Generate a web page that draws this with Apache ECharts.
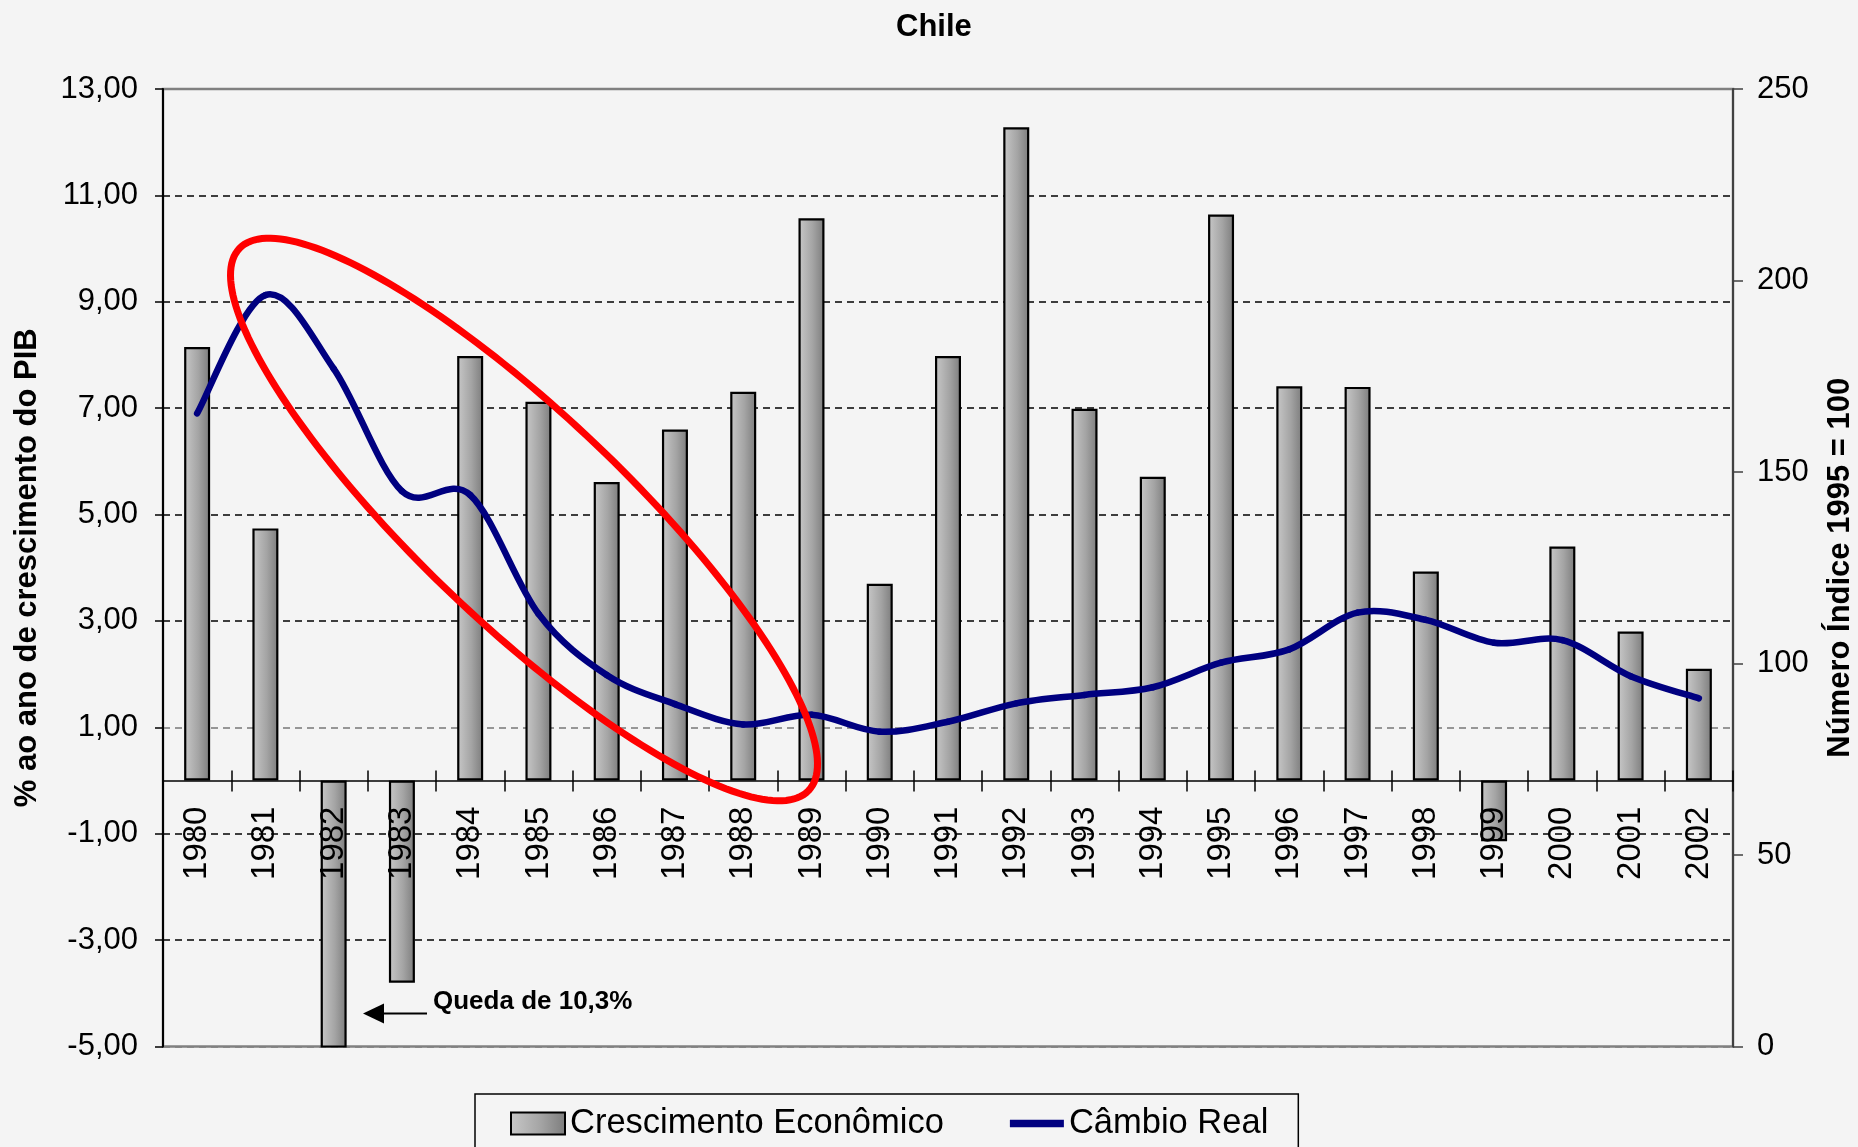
<!DOCTYPE html>
<html>
<head>
<meta charset="utf-8">
<script src="https://cdn.jsdelivr.net/npm/echarts/dist/echarts.min.js"></script>
<style>
html,body{margin:0;padding:0;background:#f4f4f4;}
#c{width:1858px;height:1147px;}
</style>
</head>
<body>
<div id="c"></div>
<script>
const years = ['1980','1981','1982','1983','1984','1985','1986','1987','1988','1989','1990','1991','1992','1993','1994','1995','1996','1997','1998','1999','2000','2001','2002'];
const crescimento = [8.15, 4.74, -10.3, -3.8, 7.98, 7.12, 5.61, 6.60, 7.31, 10.57, 3.70, 7.98, 12.28, 6.99, 5.71, 10.64, 7.41, 7.40, 3.93, -1.14, 4.40, 2.80, 2.10];
const cambioReal = [165.3, 196.2, 177, 145, 144, 113, 97, 89.4, 84.1, 86.6, 82.2, 84.8, 89.6, 91.8, 93.8, 100.2, 103.7, 113.3, 111.4, 105.4, 106.1, 96.7, 90.9];
const leftTicks = [-5, -3, -1, 1, 3, 5, 7, 9, 11, 13];
const rightTicks = [0, 50, 100, 150, 200, 250];
const seriesNames = ['Crescimento Econômico', 'Câmbio Real'];

const FONT = '"Liberation Sans", Arial, sans-serif';
const chart = echarts.init(document.getElementById('c'), null, {renderer: 'canvas'});

const GRID = {left: 163, right: 125, top: 89, bottom: 100.5};
const gridH = 1147 - GRID.top - GRID.bottom;
const lMin = leftTicks[0], lMax = leftTicks[leftTicks.length - 1];
// x axis sits on the zero of the left axis
const zeroOffset = -gridH * (0 - lMin) / (lMax - lMin);

// annotation ellipse (hand-drawn highlight)
const ellipsePts = [];
(function(){
  const cx = 524, cy = 519.5, a = 393, b = 104, th = 43.6 * Math.PI / 180;
  const ux = Math.cos(th), uy = Math.sin(th);
  for (let i = 0; i < 200; i++) {
    const t = i / 200 * Math.PI * 2;
    const ca = a * Math.cos(t), sb = b * Math.sin(t);
    ellipsePts.push([cx + ca * ux - sb * uy, cy + ca * uy + sb * ux]);
  }
})();

const splitColors = leftTicks.map((v, i) => (i === 0 || i === leftTicks.length - 1) ? '#808080' : (v === 1 ? '#777777' : '#000000'));

// smoothed line (Catmull-Rom, like the spreadsheet's smoothing) drawn through the axis scales
function renderSmoothSegment(params, api) {
  const n = cambioReal.length;
  const i = params.dataIndex;
  if (i >= n - 1) return {type: 'group', children: []};
  const P = k => {
    const j = Math.max(0, Math.min(n - 1, k));
    return api.coord([j, cambioReal[j]]);
  };
  const p0 = P(i - 1), p1 = P(i), p2 = P(i + 1), p3 = P(i + 2);
  return {
    type: 'bezierCurve',
    shape: {
      x1: p1[0], y1: p1[1], x2: p2[0], y2: p2[1],
      cpx1: p1[0] + (p2[0] - p0[0]) / 6, cpy1: p1[1] + (p2[1] - p0[1]) / 6,
      cpx2: p2[0] - (p3[0] - p1[0]) / 6, cpy2: p2[1] - (p3[1] - p1[1]) / 6
    },
    style: {stroke: '#000080', lineWidth: 6.5, fill: null, lineCap: 'round', lineJoin: 'round'}
  };
}

const option = {
  backgroundColor: '#f4f4f4',
  animation: false,
  title: {
    text: 'Chile', left: 891, top: 7,
    textStyle: {fontSize: 31, fontWeight: 'bold', color: '#000', fontFamily: FONT}
  },
  grid: Object.assign({
    show: true, borderColor: '#808080', borderWidth: 2.5, backgroundColor: 'transparent',
    containLabel: false, outerBoundsMode: 'none'
  }, GRID),
  legend: {
    left: 475, top: 1094, orient: 'horizontal',
    padding: [12, 30, 40, 35], itemGap: 66, itemWidth: 54, itemHeight: 22,
    borderColor: '#000', borderWidth: 1.5, backgroundColor: '#f4f4f4',
    selectedMode: false,
    textStyle: {fontSize: 34.5, color: '#000', fontFamily: FONT},
    data: [
      {name: seriesNames[0], icon: 'rect'},
      {name: seriesNames[1], icon: 'path://M0 0H58V8H0Z', itemStyle: {color: '#000080', borderWidth: 0}}
    ]
  },
  xAxis: [
    {
      type: 'category', data: years, z: 10, position: 'bottom', offset: zeroOffset,
      axisLine: {show: true, onZero: false, lineStyle: {color: '#000', width: 1.5}},
      axisTick: {show: true, length: 11, lineStyle: {color: '#000', width: 1.5}},
      axisLabel: {rotate: 90, interval: 0, fontSize: 33, margin: 26, color: '#000', fontFamily: FONT},
      splitLine: {show: false}
    },
    {
      type: 'category', data: years, z: 10, position: 'bottom', offset: zeroOffset,
      axisLine: {show: false, onZero: false},
      axisTick: {show: true, inside: true, length: 10, lineStyle: {color: '#000', width: 1.5}},
      axisLabel: {show: false},
      splitLine: {show: false}
    }
  ],
  yAxis: [
    {
      type: 'value', position: 'left', min: lMin, max: lMax,
      axisLine: {show: true, onZero: false, lineStyle: {color: '#000', width: 2}},
      axisTick: {show: true, customValues: leftTicks, length: 8, lineStyle: {color: '#000', width: 1.5}},
      axisLabel: {
        customValues: leftTicks, fontSize: 31, color: '#000', margin: 25, fontFamily: FONT,
        formatter: v => v.toFixed(2).replace('.', ',')
      },
      splitLine: {show: true, lineStyle: {color: splitColors, type: [7, 5], width: 1.5}},
      name: '% ao ano de crescimento do PIB', nameLocation: 'middle', nameRotate: 90, nameGap: 120,
      nameMoveOverlap: false,
      nameTextStyle: {fontSize: 31, fontWeight: 'bold', color: '#000', fontFamily: FONT}
    },
    {
      type: 'value', position: 'right',
      min: rightTicks[0], max: rightTicks[rightTicks.length - 1], interval: rightTicks[1] - rightTicks[0],
      axisLine: {show: true, onZero: false, lineStyle: {color: '#404040', width: 2}},
      axisTick: {show: true, length: 10, lineStyle: {color: '#404040', width: 1.5}},
      axisLabel: {fontSize: 31, color: '#000', margin: 24, fontFamily: FONT},
      splitLine: {show: false},
      name: 'Número Índice 1995 = 100', nameLocation: 'middle', nameRotate: 90, nameGap: 92,
      nameMoveOverlap: false,
      nameTextStyle: {fontSize: 31, fontWeight: 'bold', color: '#000', fontFamily: FONT}
    }
  ],
  series: [
    {
      name: seriesNames[0], type: 'bar', xAxisIndex: 0, yAxisIndex: 0, data: crescimento, barWidth: 26,
      itemStyle: {
        color: new echarts.graphic.LinearGradient(0, 0, 1, 0, [
          {offset: 0, color: '#c8c8c8'}, {offset: 0.55, color: '#a4a4a4'}, {offset: 1, color: '#7c7c7c'}
        ]),
        borderColor: '#000', borderWidth: 2.2
      },
      z: 2
    },
    {
      name: seriesNames[1], type: 'custom', xAxisIndex: 0, yAxisIndex: 1,
      data: cambioReal.map((v, i) => [i, v]),
      encode: {x: 0, y: 1},
      renderItem: renderSmoothSegment,
      itemStyle: {color: '#000080'},
      z: 3
    }
  ],
  graphic: [
    {
      type: 'polygon', z: 100,
      shape: {points: ellipsePts},
      style: {fill: 'none', stroke: '#ff0000', lineWidth: 7}
    },
    {
      type: 'line', z: 100,
      shape: {x1: 382, y1: 1013.5, x2: 427, y2: 1013.5},
      style: {stroke: '#000', lineWidth: 2}
    },
    {
      type: 'polygon', z: 100,
      shape: {points: [[363, 1013.5], [384, 1003.5], [384, 1023.5]]},
      style: {fill: '#000'}
    },
    {
      type: 'text', z: 100, x: 433, y: 1002,
      style: {
        text: 'Queda de 10,3%', fill: '#000',
        font: 'bold 26px "Liberation Sans", Arial, sans-serif',
        textAlign: 'left', textVerticalAlign: 'middle', align: 'left', verticalAlign: 'middle'
      }
    }
  ]
};
chart.setOption(option);
</script>
</body>
</html>
